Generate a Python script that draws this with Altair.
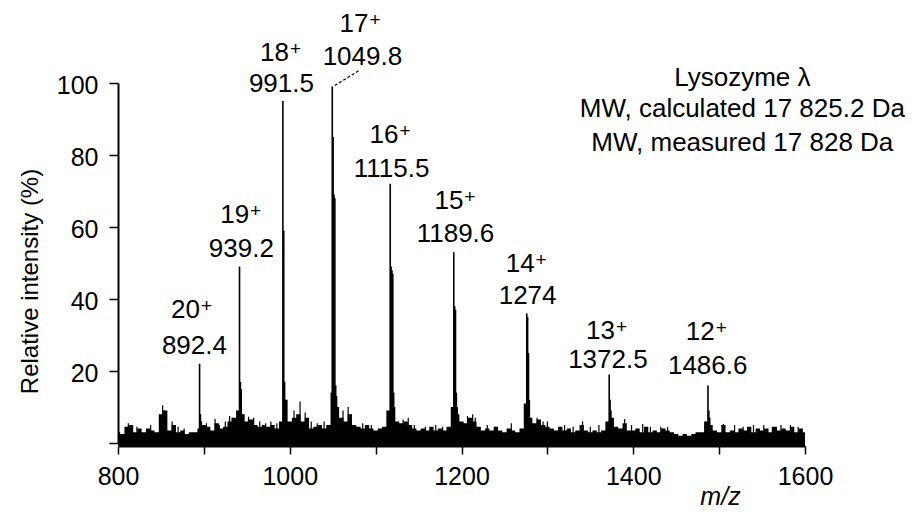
import altair as alt
import pandas as pd

FONT = "Liberation Sans"

# ---- baseline noise (m/z every 5, relative intensity %) ----
noise_mz = list(range(800, 1605, 5))
noise_int = [
    3, 2.5, 4.5, 5, 3, 4, 3, 4, 3.5, 3,
    8, 9, 3.5, 5, 3, 3.5, 2.5, 3, 3, 4,
    5, 4.5, 3.5, 5.5, 4, 4.5, 6, 7, 9, 8,
    6, 6.5, 5, 4.5, 5, 4.5, 5, 4, 6, 12,
    6, 7, 8, 6, 7, 4, 4.5, 5, 4, 5,
    14, 10, 7, 6, 8, 5, 4.5, 4, 5, 4,
    3.5, 4, 4.5, 9, 10, 6, 5.5, 6, 5, 4,
    3.5, 4, 3.5, 4.5, 3.5, 4, 3.5, 4.5, 10, 8,
    6, 5.5, 7, 6, 4.5, 3.5, 4, 3.5, 4.5, 3.5,
    3, 4, 3.5, 3, 4, 11, 7, 5.5, 6.5, 5,
    4.5, 4, 3.5, 4.5, 3.5, 4, 3, 3.5, 5, 3.5,
    3, 3.5, 3, 3.5, 6, 7, 4.5, 4, 5.5, 3.5,
    3.5, 4, 3, 4.5, 3, 3.5, 3, 4, 3.5, 3,
    2.5, 2, 2.5, 2, 2.5, 3, 3, 6, 5, 3.5,
    3, 5, 3, 3.5, 3, 4, 3.5, 4.5, 3, 4,
    3.5, 4, 3, 4.5, 3.5, 4, 3.5, 4.5, 3, 4,
    3,
]

# ---- thin noise spikes above the band ----
spike_mz = [812, 817, 822, 838, 852, 854, 863, 870, 877, 903, 913, 918, 925, 930, 933,
            952, 958, 965, 972, 978, 985, 1005, 1012, 1018, 1025, 1032, 1040,
            1062, 1068, 1071, 1085, 1095, 1132, 1138, 1145, 1158, 1170, 1178,
            1207, 1213, 1216, 1230, 1240, 1258, 1288, 1295, 1300, 1320, 1330,
            1341, 1350, 1360, 1390, 1398, 1411, 1420, 1432, 1440, 1505, 1518,
            1528, 1540, 1552, 1562, 1572, 1583, 1592]
spike_int = [5.5, 5, 4.5, 5, 10.5, 9, 6, 4.5, 4, 5.5, 6.7, 5, 6, 7.5, 7,
             7.3, 7, 6, 5.5, 6, 5.5, 9, 11.5, 8.5, 6, 5.5, 6,
             9, 10, 8, 5.5, 5, 6.5, 7, 5, 4.5, 5, 4.5,
             7.5, 8, 7, 5, 4.5, 5.5, 7, 6, 6, 5, 4.5,
             6, 4.5, 5, 6.7, 5, 5.3, 4.5, 4.5, 4.5, 5.3, 5,
             4.5, 5, 5, 4.5, 5, 5, 4.5]

# ---- charge-state peak clusters ----
peak_mz = [895, 896, 897,
           941.5, 942.5, 943.5, 944.5,
           992, 993, 994, 995,
           1049.5, 1050.5, 1051.5, 1052.5, 1053.5, 1054.5,
           1117, 1118, 1119, 1120, 1121, 1122,
           1191, 1192, 1193, 1194, 1195,
           1276, 1277, 1278, 1279,
           1372, 1373, 1374,
           1487, 1488, 1489]
peak_int = [22, 8, 6,
            49, 17, 15, 8,
            95, 59, 17, 12,
            99, 85, 69, 68, 16, 13,
            72, 49, 48, 47, 14, 10,
            53, 38, 37, 14, 10,
            36, 35, 25, 12,
            19, 12, 9,
            16, 9, 7]

# ---- peak labels ----
charge_text = ["20", "19", "18", "17", "16", "15", "14", "13", "12"]
charge_mz = [887.2, 944.5, 991, 1083.5, 1118.5, 1194, 1277, 1370.5, 1486.7]
charge_y = [34.6, 61, 106.2, 114.2, 83.2, 65.1, 47.4, 29, 28.5]
mass_text = ["892.4", "939.2", "991.5", "1049.8", "1115.5", "1189.6", "1274", "1372.5", "1486.6"]
mass_mz = [889, 943.7, 990.3, 1084.6, 1118.5, 1193, 1277, 1370.5, 1486.7]
mass_y = [24.6, 51.6, 97.4, 104.9, 73.8, 55.8, 38.75, 20.7, 19.3]

# ---- annotation ----
info_text = ["Lysozyme λ", "MW, calculated 17 825.2 Da", "MW, measured 17 828 Da"]
info_mz = [1527, 1527, 1527]
info_y = [99.3, 90.5, 81.25]

# leader from 17+ peak to its label
leader = pd.DataFrame({"mz": [1052.4], "mz2": [1082.3], "int": [99.3], "int2": [103.7]})

noise_df = pd.DataFrame({"mz": noise_mz, "int": noise_int, "base": -0.8})
spike_df = pd.DataFrame({"mz": spike_mz, "int": spike_int, "base": 0})
peak_df = pd.DataFrame({"mz": peak_mz, "int": peak_int, "base": 0})
charge_df = pd.DataFrame({"mz": charge_mz, "int": charge_y, "label": charge_text, "plus": "+"})
mass_df = pd.DataFrame({"mz": mass_mz, "int": mass_y, "label": mass_text})
info_df = pd.DataFrame({"mz": info_mz, "int": info_y, "label": info_text})

xscale = alt.Scale(domain=[800, 1600], nice=False, zero=False)
yscale = alt.Scale(domain=[0, 100], nice=False, zero=True)

xaxis = alt.Axis(
    values=list(range(800, 1601, 100)), format="d",
    labelExpr="datum.value % 200 == 0 ? datum.label : ''",
    title="m/z", titleFontStyle="italic", titleFontWeight="normal", titleFontSize=25,
    titleFont=FONT, titleX=602, titleY=58, titleAlign="center", titleBaseline="alphabetic",
    titleColor="black",
    labelFont=FONT, labelFontSize=25, labelColor="black", labelPadding=10,
    domainColor="black", domainWidth=2, tickColor="black", tickWidth=1.5, tickSize=8,
    offset=3, grid=False, labelFlush=False,
)
yaxis = alt.Axis(
    values=[0, 20, 40, 60, 80, 100], format="d",
    labelExpr="datum.value == 0 ? '' : datum.label",
    title="Relative intensity (%)", titleFontWeight="normal", titleFontSize=24, titleFont=FONT,
    titleColor="black",
    titleAngle=270, titleX=-81, titleY=198, titleAlign="center", titleBaseline="alphabetic",
    labelFont=FONT, labelFontSize=25, labelColor="black", labelPadding=11, labelOffset=2,
    domainColor="black", domainWidth=2, tickColor="black", tickWidth=1.5, tickSize=9,
    grid=False, labelFlush=False,
)

area = alt.Chart(noise_df).mark_area(interpolate="step", color="black").encode(
    x=alt.X("mz:Q", scale=xscale, axis=xaxis),
    y=alt.Y("int:Q", scale=yscale, axis=yaxis),
    y2="base:Q",
)

spikes = alt.Chart(spike_df).mark_rule(color="black", strokeWidth=1.2).encode(
    x=alt.X("mz:Q", scale=xscale),
    y=alt.Y("int:Q", scale=yscale),
    y2="base:Q",
)

peaks = alt.Chart(peak_df).mark_rule(color="black", strokeWidth=1.6).encode(
    x=alt.X("mz:Q", scale=xscale),
    y=alt.Y("int:Q", scale=yscale),
    y2="base:Q",
)

lead = alt.Chart(leader).mark_rule(color="black", strokeWidth=1.2, strokeDash=[3, 2]).encode(
    x=alt.X("mz:Q", scale=xscale), x2="mz2:Q",
    y=alt.Y("int:Q", scale=yscale), y2="int2:Q",
)


def text_layer(df, size, field="label", align="center", dx=0, dy=0):
    return alt.Chart(df).mark_text(
        font=FONT, fontSize=size, color="black", align=align, baseline="alphabetic",
        dx=dx, dy=dy,
    ).encode(
        x=alt.X("mz:Q", scale=xscale),
        y=alt.Y("int:Q", scale=yscale),
        text=f"{field}:N",
    )


chart = alt.layer(
    area, spikes, peaks, lead,
    text_layer(charge_df, 26, align="right", dx=7),
    text_layer(charge_df, 19, field="plus", align="left", dx=8, dy=-6),
    text_layer(mass_df, 26),
    text_layer(info_df, 26),
).properties(
    width=687, height=360,
    autosize=alt.AutoSizeParams(type="none"),
    padding={"left": 110, "top": 75, "right": 105, "bottom": 69},
    background="white",
).configure_view(stroke=None)

chart.save("out.html", embed_options={"renderer": "svg", "actions": False})
